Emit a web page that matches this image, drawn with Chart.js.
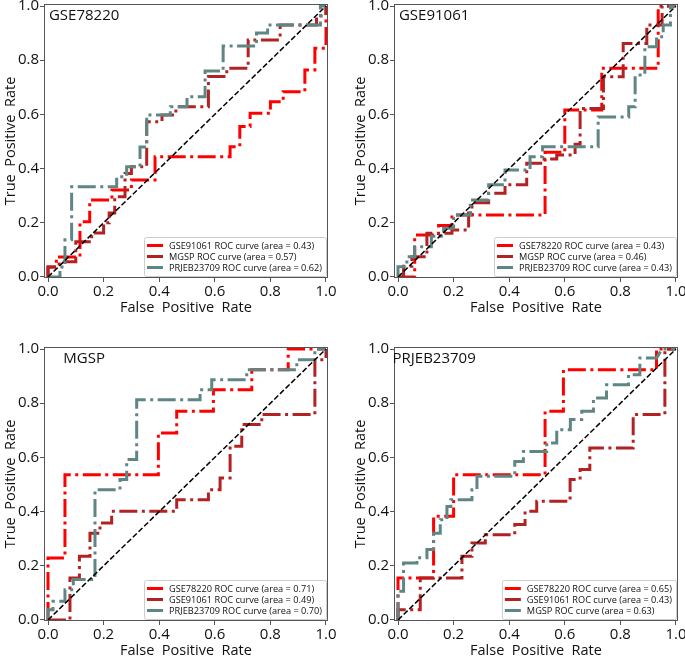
<!DOCTYPE html>
<html>
<head>
<meta charset="utf-8">
<script src="https://cdn.jsdelivr.net/npm/chart.js@4.4.1/dist/chart.umd.min.js"></script>
<style>
html, body { margin: 0; padding: 0; background: #fff; }
#wrap { position: relative; width: 685px; height: 658px; overflow: hidden; }
canvas { position: absolute; }
</style>
</head>
<body>
<div id="wrap"></div>
<script>
// tick marks shared by every panel
const tickValues = [0, 0.2, 0.4, 0.6, 0.8, 1.0];
const tickLabels = ['0.0', '0.2', '0.4', '0.6', '0.8', '1.0'];

const panelTitles = ['GSE78220', 'GSE91061', 'MGSP', 'PRJEB23709'];
const seriesNames = [
    ['GSE91061', 'MGSP', 'PRJEB23709'],
    ['GSE78220', 'MGSP', 'PRJEB23709'],
    ['GSE78220', 'GSE91061', 'PRJEB23709'],
    ['GSE78220', 'GSE91061', 'MGSP']
];
const aucValues = [
    [0.43, 0.57, 0.62],
    [0.43, 0.46, 0.43],
    [0.71, 0.49, 0.70],
    [0.65, 0.43, 0.63]
];

// chance line
const diagX = [0, 1];
const diagY = [0, 1];

// test set GSE78220
const gse78220_gse91061_fpr = [0, 0, 0.03, 0.03, 0.115, 0.115, 0.15, 0.15, 0.23, 0.23, 0.3, 0.3, 0.385, 0.385, 0.655, 0.655, 0.69, 0.69, 0.727, 0.727, 0.8, 0.8, 0.846, 0.846, 0.924, 0.924, 0.96, 0.96, 1, 1];
const gse78220_gse91061_tpr = [0, 0.037, 0.037, 0.074, 0.074, 0.204, 0.204, 0.284, 0.284, 0.321, 0.321, 0.358, 0.358, 0.444, 0.444, 0.481, 0.481, 0.555, 0.555, 0.604, 0.604, 0.647, 0.647, 0.684, 0.684, 0.764, 0.764, 0.844, 0.844, 1];
const gse78220_mgsp_fpr = [0, 0, 0.04, 0.04, 0.1, 0.1, 0.157, 0.157, 0.2, 0.2, 0.22, 0.22, 0.24, 0.24, 0.277, 0.277, 0.3, 0.3, 0.355, 0.355, 0.41, 0.41, 0.46, 0.46, 0.577, 0.577, 0.643, 0.643, 0.72, 0.72, 0.835, 0.835, 0.966, 0.966, 1, 1];
const gse78220_mgsp_tpr = [0, 0.037, 0.037, 0.056, 0.056, 0.13, 0.13, 0.162, 0.162, 0.2, 0.2, 0.236, 0.236, 0.296, 0.296, 0.382, 0.382, 0.407, 0.407, 0.573, 0.573, 0.598, 0.598, 0.628, 0.628, 0.74, 0.74, 0.77, 0.77, 0.875, 0.875, 0.93, 0.93, 0.963, 0.963, 1];
const gse78220_prjeb23709_fpr = [0, 0.043, 0.043, 0.061, 0.061, 0.085, 0.085, 0.247, 0.247, 0.283, 0.283, 0.331, 0.331, 0.355, 0.355, 0.44, 0.44, 0.5, 0.5, 0.565, 0.565, 0.63, 0.63, 0.75, 0.75, 0.79, 0.79, 0.98, 0.98, 1];
const gse78220_prjeb23709_tpr = [0, 0, 0.037, 0.037, 0.137, 0.137, 0.333, 0.333, 0.37, 0.37, 0.407, 0.407, 0.48, 0.48, 0.598, 0.598, 0.628, 0.628, 0.665, 0.665, 0.76, 0.76, 0.852, 0.852, 0.9, 0.9, 0.93, 0.93, 1, 1];

// test set GSE91061
const gse91061_gse78220_fpr = [0, 0.06, 0.06, 0.146, 0.146, 0.194, 0.194, 0.529, 0.529, 0.6, 0.6, 0.733, 0.733, 0.936, 0.936, 1];
const gse91061_gse78220_tpr = [0, 0, 0.155, 0.155, 0.19, 0.19, 0.229, 0.229, 0.46, 0.46, 0.616, 0.616, 0.77, 0.77, 1, 1];
const gse91061_mgsp_fpr = [0, 0.02, 0.02, 0.05, 0.05, 0.104, 0.104, 0.194, 0.194, 0.254, 0.254, 0.266, 0.266, 0.326, 0.326, 0.385, 0.385, 0.463, 0.463, 0.52, 0.52, 0.571, 0.571, 0.637, 0.637, 0.655, 0.655, 0.739, 0.739, 0.81, 0.81, 0.895, 0.895, 0.95, 0.95, 1];
const gse91061_mgsp_tpr = [0, 0, 0.04, 0.04, 0.075, 0.075, 0.161, 0.161, 0.173, 0.173, 0.236, 0.236, 0.274, 0.274, 0.309, 0.309, 0.34, 0.34, 0.42, 0.42, 0.435, 0.435, 0.45, 0.45, 0.49, 0.49, 0.622, 0.622, 0.739, 0.739, 0.862, 0.862, 0.93, 0.93, 1, 1];
const gse91061_prjeb23709_fpr = [0, 0, 0.032, 0.032, 0.06, 0.06, 0.12, 0.12, 0.164, 0.164, 0.2, 0.2, 0.26, 0.26, 0.326, 0.326, 0.385, 0.385, 0.475, 0.475, 0.52, 0.52, 0.72, 0.72, 0.83, 0.83, 0.853, 0.853, 0.888, 0.888, 0.93, 0.93, 0.954, 0.954, 0.98, 0.98, 1];
const gse91061_prjeb23709_tpr = [0, 0.038, 0.038, 0.075, 0.075, 0.112, 0.112, 0.15, 0.15, 0.18, 0.18, 0.229, 0.229, 0.284, 0.284, 0.34, 0.34, 0.395, 0.395, 0.444, 0.444, 0.481, 0.481, 0.59, 0.59, 0.628, 0.628, 0.745, 0.745, 0.85, 0.85, 0.887, 0.887, 0.93, 0.93, 1, 1];

// test set MGSP
const mgsp_gse78220_fpr = [0, 0, 0.061, 0.061, 0.397, 0.397, 0.463, 0.463, 0.595, 0.595, 0.733, 0.733, 0.864, 0.864, 1];
const mgsp_gse78220_tpr = [0, 0.229, 0.229, 0.536, 0.536, 0.69, 0.69, 0.77, 0.77, 0.85, 0.85, 0.923, 0.923, 1, 1];
const mgsp_gse91061_fpr = [0, 0.079, 0.079, 0.113, 0.113, 0.151, 0.151, 0.187, 0.187, 0.229, 0.229, 0.463, 0.463, 0.577, 0.577, 0.619, 0.619, 0.655, 0.655, 0.697, 0.697, 0.769, 0.769, 0.96, 0.96, 1, 1];
const mgsp_gse91061_tpr = [0, 0, 0.155, 0.155, 0.235, 0.235, 0.32, 0.32, 0.358, 0.358, 0.401, 0.401, 0.444, 0.444, 0.481, 0.481, 0.524, 0.524, 0.641, 0.641, 0.721, 0.721, 0.758, 0.758, 0.96, 0.96, 1];
const mgsp_prjeb23709_fpr = [0, 0, 0.018, 0.018, 0.061, 0.061, 0.091, 0.091, 0.169, 0.169, 0.259, 0.259, 0.283, 0.283, 0.319, 0.319, 0.547, 0.547, 0.589, 0.589, 0.715, 0.715, 0.895, 0.895, 0.96, 0.96, 1];
const mgsp_prjeb23709_tpr = [0, 0.038, 0.038, 0.069, 0.069, 0.112, 0.112, 0.149, 0.149, 0.481, 0.481, 0.518, 0.518, 0.592, 0.592, 0.813, 0.813, 0.85, 0.85, 0.887, 0.887, 0.923, 0.923, 0.96, 0.96, 1, 1];

// test set PRJEB23709
const prjeb23709_gse78220_fpr = [0, 0, 0.128, 0.128, 0.2, 0.2, 0.529, 0.529, 0.595, 0.595, 0.93, 0.93, 1];
const prjeb23709_gse78220_tpr = [0, 0.155, 0.155, 0.383, 0.383, 0.536, 0.536, 0.77, 0.77, 0.923, 0.923, 1, 1];
const prjeb23709_gse91061_fpr = [0, 0, 0.08, 0.08, 0.23, 0.23, 0.266, 0.266, 0.314, 0.314, 0.42, 0.42, 0.457, 0.457, 0.499, 0.499, 0.619, 0.619, 0.655, 0.655, 0.69, 0.69, 0.846, 0.846, 0.96, 0.96, 1];
const prjeb23709_gse91061_tpr = [0, 0.038, 0.038, 0.155, 0.155, 0.235, 0.235, 0.284, 0.284, 0.315, 0.315, 0.352, 0.352, 0.401, 0.401, 0.438, 0.438, 0.518, 0.518, 0.555, 0.555, 0.635, 0.635, 0.758, 0.758, 1, 1];
const prjeb23709_mgsp_fpr = [0, 0, 0.02, 0.02, 0.068, 0.068, 0.104, 0.104, 0.128, 0.128, 0.152, 0.152, 0.176, 0.176, 0.19, 0.19, 0.266, 0.266, 0.284, 0.284, 0.42, 0.42, 0.451, 0.451, 0.535, 0.535, 0.571, 0.571, 0.62, 0.62, 0.661, 0.661, 0.703, 0.703, 0.75, 0.75, 0.829, 0.829, 0.87, 0.87, 0.93, 0.95, 1];
const prjeb23709_mgsp_tpr = [0, 0.106, 0.106, 0.21, 0.21, 0.23, 0.23, 0.26, 0.26, 0.32, 0.32, 0.37, 0.37, 0.419, 0.419, 0.444, 0.444, 0.481, 0.481, 0.53, 0.53, 0.585, 0.585, 0.622, 0.622, 0.653, 0.653, 0.702, 0.702, 0.74, 0.74, 0.77, 0.77, 0.819, 0.819, 0.868, 0.868, 0.905, 0.905, 0.967, 0.967, 1, 1];

const fprList = [
    [gse78220_gse91061_fpr, gse78220_mgsp_fpr, gse78220_prjeb23709_fpr],
    [gse91061_gse78220_fpr, gse91061_mgsp_fpr, gse91061_prjeb23709_fpr],
    [mgsp_gse78220_fpr, mgsp_gse91061_fpr, mgsp_prjeb23709_fpr],
    [prjeb23709_gse78220_fpr, prjeb23709_gse91061_fpr, prjeb23709_mgsp_fpr]
];
const tprList = [
    [gse78220_gse91061_tpr, gse78220_mgsp_tpr, gse78220_prjeb23709_tpr],
    [gse91061_gse78220_tpr, gse91061_mgsp_tpr, gse91061_prjeb23709_tpr],
    [mgsp_gse78220_tpr, mgsp_gse91061_tpr, mgsp_prjeb23709_tpr],
    [prjeb23709_gse78220_tpr, prjeb23709_gse91061_tpr, prjeb23709_mgsp_tpr]
];

const seriesColors = ['#ff0000', '#b22222', '#5f8585'];
const FONT = '"Open Sans", sans-serif';
const textColor = '#111';
const frameColor = '#555';

// where each panel's canvas sits on the page
const panelBoxes = [
    { left: 0, top: 0, width: 345, height: 315 },
    { left: 350, top: 0, width: 335, height: 315 },
    { left: 0, top: 343, width: 345, height: 315 },
    { left: 350, top: 343, width: 335, height: 315 }
];
const plotRight = 328;   // right edge of plot area inside each canvas
const plotBottom = 278;
const yAxisWidth = 44;
const xAxisHeight = 37;

const decorPlugin = {
    id: 'decor',
    afterDraw(chart, args, opts) {
        const ctx = chart.ctx;
        const a = chart.chartArea;
        ctx.save();
        // full box around the axes
        ctx.strokeStyle = frameColor;
        ctx.lineWidth = 1;
        ctx.strokeRect(a.left + 0.5, a.top + 0.5, a.right - a.left - 1, a.bottom - a.top - 1);

        // panel name
        ctx.fillStyle = textColor;
        ctx.font = '15px ' + FONT;
        ctx.textAlign = 'center';
        ctx.textBaseline = 'middle';
        ctx.fillText(opts.title, chart.scales.x.getPixelForValue(0.13), chart.scales.y.getPixelForValue(0.965));

        // legend, lower right
        const items = chart.data.datasets.filter(d => d.label);
        ctx.font = '9.2px ' + FONT;
        const textW = Math.max(...items.map(d => ctx.measureText(d.label).width));
        const rowH = 11;
        const boxW = 25 + textW + 4;
        const boxH = items.length * rowH + 6;
        const right = a.right - 2, bottom = a.bottom - 2;
        const left = right - boxW, top = bottom - boxH;
        ctx.beginPath();
        ctx.roundRect(left + 0.5, top + 0.5, boxW, boxH, 2);
        ctx.fillStyle = 'rgba(255,255,255,0.85)';
        ctx.fill();
        ctx.strokeStyle = '#cccccc';
        ctx.stroke();
        items.forEach((d, k) => {
            const y = top + 3 + rowH * k + rowH / 2;
            ctx.beginPath();
            ctx.moveTo(left + 3, y);
            ctx.lineTo(left + 19, y);
            ctx.strokeStyle = d.borderColor;
            ctx.lineWidth = 3;
            ctx.setLineDash([]);
            ctx.stroke();
            ctx.fillStyle = textColor;
            ctx.textAlign = 'left';
            ctx.fillText(d.label, left + 25, y + 0.5);
        });
        ctx.restore();
    }
};

function makeChart(i) {
    const box = panelBoxes[i];
    const canvas = document.createElement('canvas');
    canvas.width = box.width;
    canvas.height = box.height;
    canvas.style.left = box.left + 'px';
    canvas.style.top = box.top + 'px';
    canvas.style.width = box.width + 'px';
    canvas.style.height = box.height + 'px';
    document.getElementById('wrap').appendChild(canvas);

    const datasets = seriesNames[i].map((name, k) => ({
        label: name + ' ROC curve (area = ' + aucValues[i][k].toFixed(2) + ')',
        data: fprList[i][k].map((x, j) => ({ x: x, y: tprList[i][k][j] })),
        borderColor: seriesColors[k],
        borderWidth: 3,
        borderDash: [18, 4.5, 3, 4.5],
        borderCapStyle: 'butt',
        pointRadius: 0,
        fill: false,
        tension: 0,
        order: 10 - k
    }));
    datasets.push({
        label: '',
        data: diagX.map((x, j) => ({ x: x, y: diagY[j] })),
        borderColor: '#000',
        borderWidth: 1.5,
        borderDash: [5.5, 2.4],
        pointRadius: 0,
        fill: false,
        order: 0
    });

    const tickFont = { family: FONT, size: 15 };
    const titleFont = { family: FONT, size: 14.5 };

    new Chart(canvas, {
        type: 'line',
        data: { datasets: datasets },
        plugins: [decorPlugin],
        options: {
            responsive: false,
            animation: false,
            devicePixelRatio: 1,
            layout: {
                autoPadding: false,
                padding: { left: 0, top: 4, right: box.width - plotRight, bottom: box.height - plotBottom - xAxisHeight }
            },
            plugins: {
                legend: { display: false },
                tooltip: { enabled: false },
                decor: { title: panelTitles[i] }
            },
            scales: {
                x: {
                    type: 'linear',
                    min: -0.0144,
                    max: 1.0072,
                    afterBuildTicks: s => { s.ticks = tickValues.map(v => ({ value: v })); },
                    afterFit: s => { s.height = xAxisHeight; s.paddingLeft = 0; s.paddingRight = 0; },
                    ticks: {
                        autoSkip: false,
                        maxRotation: 0,
                        padding: 1,
                        color: textColor,
                        font: tickFont,
                        callback: (v, idx) => tickLabels[idx]
                    },
                    grid: { drawOnChartArea: false, drawTicks: true, tickLength: 4, color: frameColor },
                    border: { display: false },
                    title: {
                        display: true,
                        text: 'False  Positive  Rate',
                        color: textColor,
                        font: titleFont,
                        padding: { top: 0, bottom: -1.5 }
                    }
                },
                y: {
                    type: 'linear',
                    min: -0.0037,
                    max: 1.0074,
                    afterBuildTicks: s => { s.ticks = tickValues.map(v => ({ value: v })); },
                    afterFit: s => { s.width = yAxisWidth; s.paddingTop = 0; s.paddingBottom = 0; },
                    ticks: {
                        autoSkip: false,
                        padding: 1,
                        color: textColor,
                        font: tickFont,
                        callback: (v, idx) => tickLabels[idx]
                    },
                    grid: { drawOnChartArea: false, drawTicks: true, tickLength: 4, color: frameColor },
                    border: { display: false },
                    title: {
                        display: true,
                        text: 'True  Positive  Rate',
                        color: textColor,
                        font: titleFont,
                        padding: { top: 2.5, bottom: 0 }
                    }
                }
            }
        }
    });
}

for (let i = 0; i < 4; i++) {
    makeChart(i);
}
</script>
</body>
</html>
